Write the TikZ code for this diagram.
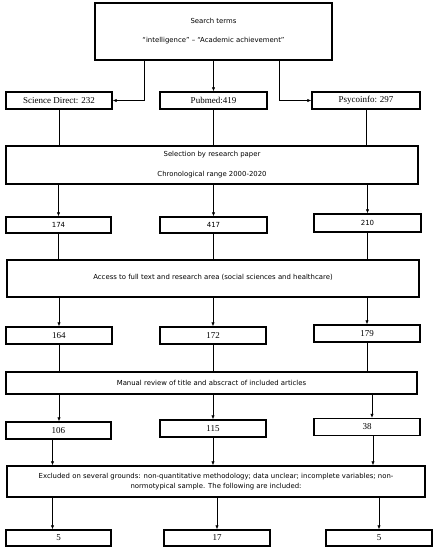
\documentclass[tikz,border=0pt]{standalone}
\usepackage{fontspec}
\setmainfont{Liberation Serif}
\newfontfamily\boxsans{DejaVu Sans}
\usetikzlibrary{arrows.meta}
\begin{document}
\begin{tikzpicture}[x=1pt,y=-1pt,
  bx/.style={draw,line width=1.2pt,inner sep=0pt,align=center},
  small/.style={bx,minimum width=106pt,minimum height=17pt,font=\fontsize{9}{10}\selectfont},
  smallsans/.style={bx,minimum width=106pt,minimum height=17pt,font=\boxsans\fontsize{7}{8}\selectfont},
  big/.style={bx,font=\boxsans\fontsize{6.9}{8}\selectfont},
  ln/.style={line width=0.6pt},
  arr/.style={line width=0.6pt,-{Latex[length=4pt,width=3.2pt]}}]
\useasboundingbox (0,0) rectangle (437,550);
% top
\node[big,minimum width=237pt,minimum height=57pt] (top) at (213.5,31.5) {Search terms\\[11pt]“intelligence” – “Academic achievement”};
\node[small] (sd) at (59,100.5) {Science Direct: 232};
\node[small,minimum width=107pt] (pm) at (213.5,100.5) {Pubmed:419};
\node[small,minimum width=108pt] (ps) at (366,100.5) {Psycoinfo: 297};
\draw[arr] ([xshift=-69.5pt]top.south) |- (sd.east);
\draw[arr] (top.south -| pm.north) -- (pm.north);
\draw[arr] ([xshift=65.5pt]top.south) |- (ps.west);
% selection
\node[big,minimum width=412pt,minimum height=38pt] (sel) at (212,165) {Selection by research paper\\[12pt]Chronological range 2000-2020};
\draw[ln] (sd.south) -- (sd.south |- sel.north);
\draw[ln] (pm.south) -- (pm.south |- sel.north);
\draw[ln] (ps.south) -- (ps.south |- sel.north);
% row 2
\node[smallsans,minimum width=105pt,minimum height=16pt] (a1) at (58.5,225) {174};
\node[smallsans,minimum width=107pt,minimum height=16pt] (a2) at (213.5,225) {417};
\node[smallsans,minimum width=107pt,minimum height=18pt] (a3) at (367.5,223) {210};
\draw[arr] (sel.south -| a1.north) -- (a1.north);
\draw[arr] (sel.south -| a2.north) -- (a2.north);
\draw[arr] (sel.south -| a3.north) -- (a3.north);
% access
\node[big,minimum width=412pt,minimum height=37pt] (acc) at (213,278.5) {\raisebox{3pt}{Access to full text and research area (social sciences and healthcare)}};
\draw[ln] (a1.south) -- (a1.south |- acc.north);
\draw[ln] (a2.south) -- (a2.south |- acc.north);
\draw[ln] (a3.south) -- (a3.south |- acc.north);
% row 3
\node[small] (b1) at (59,335.5) {164};
\node[small] (b2) at (213,335.5) {172};
\node[small] (b3) at (367,333.5) {179};
\draw[arr] (acc.south -| b1.north) -- (b1.north);
\draw[arr] (acc.south -| b2.north) -- (b2.north);
\draw[arr] (acc.south -| b3.north) -- (b3.north);
% manual
\node[big,minimum width=411pt,minimum height=22pt] (man) at (211.5,383) {Manual review of title and abscract of included articles};
\draw[ln] (b1.south) -- (b1.south |- man.north);
\draw[ln] (b2.south) -- (b2.south |- man.north);
\draw[ln] (b3.south) -- (b3.south |- man.north);
% row 4
\node[small,minimum width=105pt] (c1) at (58.5,430.5) {106};
\node[small] (c2) at (213,428.5) {115};
\node[small] (c3) at (367,427) {38};
\draw[arr] (man.south -| b1.south) -- (b1.south |- c1.north);
\draw[arr] (man.south -| b2.south) -- (b2.south |- c2.north);
\draw[arr] ([xshift=5pt]man.south -| b3.south) -- ([xshift=5pt]b3.south |- c3.north);
% excluded
\node[big,minimum width=418pt,minimum height=31pt] (exc) at (216,481.5) {Excluded on several grounds: non-quantitative methodology; data unclear; incomplete variables; non-\\[2pt]normotypical sample. The following are included:};
\draw[arr] ([xshift=-6pt]c1.south) -- ([xshift=-6pt]c1.south |- exc.north);
\draw[arr] (c2.south) -- (c2.south |- exc.north);
\draw[arr] ([xshift=6pt]c3.south) -- ([xshift=6pt]c3.south |- exc.north);
% final row
\node[small,minimum width=105pt,minimum height=16pt] (d1) at (58.5,538) {5};
\node[small,minimum width=106pt,minimum height=16pt] (d2) at (217,538) {17};
\node[small,minimum width=106pt,minimum height=16pt] (d3) at (379,538) {5};
\draw[arr] ([xshift=-6pt]exc.south -| d1.north) -- ([xshift=-6pt]d1.north);
\draw[arr] (exc.south -| d2.north) -- (d2.north);
\draw[arr] (exc.south -| d3.north) -- (d3.north);
\end{tikzpicture}
\end{document}
